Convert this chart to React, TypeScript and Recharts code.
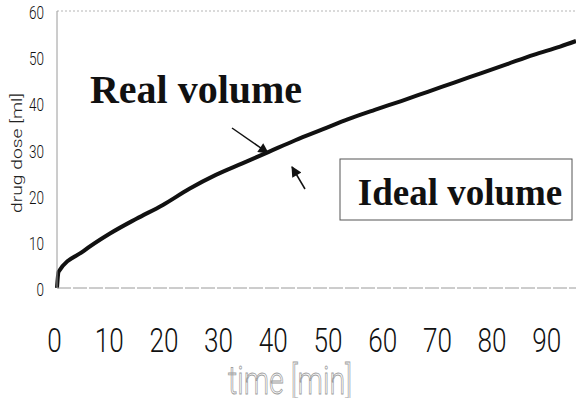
import { LineChart, Line, XAxis, YAxis, ReferenceLine } from "recharts";

// time [min] and drug dose [ml]
const TIMES = [0, 0.3, 5, 10, 15, 20, 25, 30, 35, 40, 45, 50, 55, 60, 65, 70, 75, 80, 85, 90, 95, 98];
const DOSES = [0, 3.5, 8, 11.8, 15, 18, 21.5, 24.5, 27, 29.5, 32, 34.3, 36.6, 38.6, 40.5, 42.5, 44.5, 46.5, 48.5, 50.5, 52.3, 53.5];

const X_TICKS = [0, 10, 20, 30, 40, 50, 60, 70, 80, 90];
const Y_TICKS = [0, 10, 20, 30, 40, 50, 60];

const data = TIMES.map((t, i) => ({ t, dose: DOSES[i] }));

const AXIS_GREY = "#9a9a9a";
const SANS = "'Liberation Sans', Arial, sans-serif";
const THIN = "Roboto, 'Liberation Sans', sans-serif";
const SERIF = "'Liberation Serif', 'Times New Roman', serif";

// the scanned figure uses a narrow light sans, so squeeze the glyphs to width
function XTick({ x, y, payload }: any) {
  const s = String(payload.value);
  return (
    <text x={x} y={y + 64} textAnchor="middle" fontFamily={THIN} fontWeight={300} fontSize={34} fill="#111"
      textLength={s.length * 14.5} lengthAdjust="spacingAndGlyphs">
      {s}
    </text>
  );
}

function YTick({ x, y, payload }: any) {
  const s = String(payload.value);
  return (
    <text x={x} y={y + 8} textAnchor="end" fontFamily={THIN} fontWeight={300} fontSize={19} fill="#111"
      textLength={s.length * 7.5} lengthAdjust="spacingAndGlyphs">
      {s}
    </text>
  );
}

function TimeLabel({ viewBox }: any) {
  return (
    <text x={290} y={viewBox.y + viewBox.height - 4} textAnchor="middle" fontFamily={THIN} fontWeight={300} fontSize={38}
      fill="#fff" stroke="#a0a0a0" strokeWidth={0.9} textLength={124} lengthAdjust="spacingAndGlyphs">
      time [min]
    </text>
  );
}

function DoseLabel() {
  return (
    <text x={22} y={153} transform="rotate(-90 22 153)" textAnchor="middle" fontFamily={THIN} fontWeight={300} fontSize={15}
      fill="#222" textLength={120} lengthAdjust="spacingAndGlyphs">
      drug dose [ml]
    </text>
  );
}

export default function App() {
  return (
    <div style={{ position: "absolute", left: 0, top: 0, width: 576, height: 398, background: "#fff" }}>
      <LineChart width={576} height={398} data={data} margin={{ top: 11, right: 0, left: 0, bottom: 0 }}>
        <XAxis xAxisId="data" dataKey="t" type="number" domain={[0, 98]} height={0} hide />
        {/* the printed tick strip is offset from the data, so it gets its own scale */}
        <XAxis
          xAxisId="labels"
          dataKey="t"
          type="number"
          domain={[0.457, 95.34]}
          allowDataOverflow
          ticks={X_TICKS}
          interval={0}
          height={110}
          axisLine={{ stroke: AXIS_GREY, strokeDasharray: "14 2" }}
          tickLine={false}
          tickSize={0}
          tickMargin={0}
          tick={<XTick />}
          label={<TimeLabel />}
        />
        <YAxis
          yAxisId="dose"
          type="number"
          domain={[0, 60]}
          ticks={Y_TICKS}
          width={57}
          axisLine={{ stroke: AXIS_GREY }}
          tickLine={false}
          tickSize={0}
          tickMargin={13}
          tick={<YTick />}
          label={<DoseLabel />}
        />
        <ReferenceLine xAxisId="data" yAxisId="dose" y={60} stroke="#b5b5b5" strokeDasharray="2 2" />
        <Line
          xAxisId="data"
          yAxisId="dose"
          dataKey="dose"
          type="monotone"
          stroke="#111"
          strokeWidth={4}
          dot={false}
          isAnimationActive={false}
        />
      </LineChart>
      <svg width={576} height={398} style={{ position: "absolute", left: 0, top: 0, pointerEvents: "none" }}>
        <defs>
          <marker id="head" viewBox="0 0 10 10" refX="9" refY="5" markerWidth="8" markerHeight="7" orient="auto">
            <path d="M0,0 L10,5 L0,10 z" fill="#111" />
          </marker>
        </defs>
        <text x={196} y={103} textAnchor="middle" fontFamily={SERIF} fontWeight="bold" fontSize={40} fill="#111">
          Real volume
        </text>
        <line x1={232} y1={128} x2={268} y2={153} stroke="#111" strokeWidth={1.5} markerEnd="url(#head)" />
        <line x1={305} y1={189} x2={292} y2={167} stroke="#111" strokeWidth={1.5} markerEnd="url(#head)" />
        <rect x={340} y={159} width={232} height={61} fill="#fff" stroke="#555" strokeWidth={1} />
        <text x={460} y={205} textAnchor="middle" fontFamily={SERIF} fontWeight="bold" fontSize={37} fill="#111">
          Ideal volume
        </text>
      </svg>
    </div>
  );
}
